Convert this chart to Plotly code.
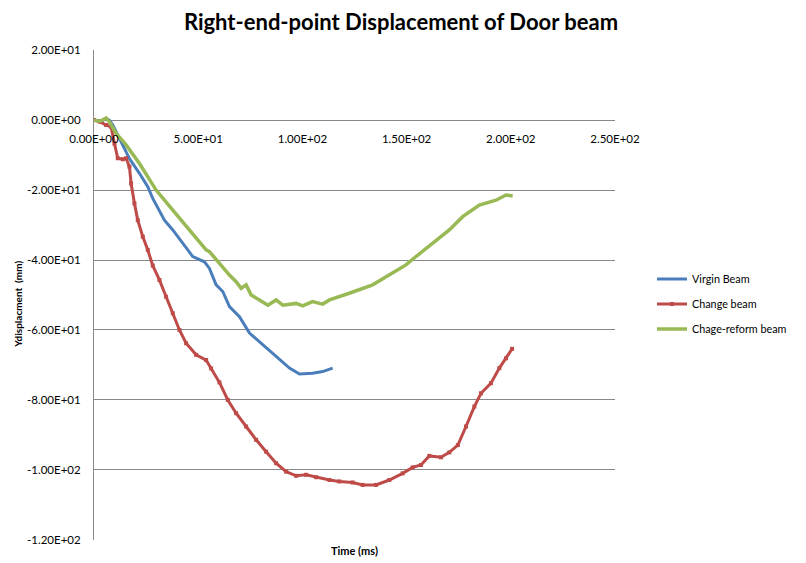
import plotly.graph_objects as go

# ---------------- data ----------------
virgin_x = [0, 4, 5.8, 7.4, 9, 12.2, 17, 21.8, 25.8, 28.2, 31.4, 33.8, 37.8, 42.6, 47.4,
            53, 55.4, 58.6, 61.8, 65, 69.8, 74.6, 81, 87.4, 93.8, 98.6, 104.9, 109.7, 114.5]
virgin_y = [0, -0.2, 0.5, 0, -1.4, -5.2, -11, -15.2, -19, -22.4, -25.7, -28.6, -31.4, -35.2, -39,
            -40.5, -42.4, -47.1, -49, -53.3, -56.2, -60.9, -64.3, -67.6, -70.9, -72.6, -72.4, -71.9, -70.9]

change_x = [0, 3, 5.8, 8.2, 9.8, 11.4, 13.8, 15.4, 17, 17.8, 19.4, 21, 23.4, 25.8, 28.2, 31.4,
            34.6, 37.8, 41, 44.2, 49, 53.8, 56.2, 60.2, 64.2, 68.2, 73, 77.8, 82.6, 87.4, 92.2,
            97, 101.8, 106.6, 113, 117.7, 124.1, 128.9, 135.3, 141.7, 148.1, 152.9, 156.9, 160.9,
            166.5, 170.5, 174.6, 178.5, 182.5, 185.7, 190.5, 194.5, 197.7, 200.6]
change_y = [0, -0.5, -1.4, -1.9, -6.7, -10.9, -11.2, -10.9, -13.3, -18.1, -23.8, -28.6, -33.3,
            -37.1, -41.6, -45.7, -50.5, -55.2, -60, -63.8, -67.1, -68.6, -71, -75, -80, -83.8,
            -87.6, -91.4, -94.8, -98.1, -100.5, -101.7, -101.4, -102.1, -102.9, -103.3, -103.6,
            -104.3, -104.3, -102.9, -101, -99.3, -98.6, -96, -96.4, -95, -92.9, -87.6, -81.9,
            -78.1, -75.2, -70.9, -68.1, -65.4]

reform_x = [0, 3, 5.8, 7.4, 10.6, 15.4, 21.8, 29.8, 37.8, 45.8, 49, 53.8, 55.4, 60.2, 65, 68.2,
            70.6, 73, 75.4, 79.4, 83.4, 87.4, 90.6, 97, 100.1, 104.9, 109.7, 113, 117.7, 122.5,
            133.7, 143.3, 149.7, 154.5, 162.5, 170.5, 176.9, 184.9, 192.9, 197.7, 200.9]
reform_y = [0, -0.3, 0.6, -0.5, -3.8, -7.1, -12.4, -20, -25.7, -31.4, -33.3, -37.1, -37.6, -41,
            -44.3, -46.2, -48.1, -47.1, -50, -51.4, -52.9, -51.4, -52.9, -52.4, -53.1, -51.9,
            -52.6, -51.4, -50.5, -49.5, -47.1, -43.8, -41.4, -39, -35.2, -31.4, -27.6, -24.3,
            -22.9, -21.4, -21.7]

series_names = ["Virgin Beam", "Change beam", "Chage-reform beam"]

x_tickvals = [0, 50, 100, 150, 200, 250]
x_ticktext = ["0.00E+00", "5.00E+01", "1.00E+02", "1.50E+02", "2.00E+02", "2.50E+02"]
y_tickvals = [20, 0, -20, -40, -60, -80, -100, -120]
y_ticktext = ["2.00E+01", "0.00E+00", "-2.00E+01", "-4.00E+01", "-6.00E+01",
              "-8.00E+01", "-1.00E+02", "-1.20E+02"]

title_text = "Right-end-point Displacement of Door beam"
x_title = "Time (ms)"
y_title = "Ydisplacment  (mm)"

# ---------------- figure ----------------
FONT = "Lato, 'Open Sans', sans-serif"
GRID = "#888888"
BLUE, RED, GREEN = "#4A7EBB", "#BE4B48", "#98B954"

fig = go.Figure()
fig.add_trace(go.Scatter(x=virgin_x, y=virgin_y, name=series_names[0], mode="lines",
                         line=dict(color=BLUE, width=3), legendgroup="a"))
fig.add_trace(go.Scatter(x=change_x, y=change_y, name=series_names[1], mode="lines+markers",
                         line=dict(color=RED, width=3),
                         marker=dict(color=RED, size=4, symbol="square"), legendgroup="b"))
fig.add_trace(go.Scatter(x=reform_x, y=reform_y, name=series_names[2], mode="lines",
                         line=dict(color=GREEN, width=3.5), legendgroup="c"))

# page body has an 8px margin: figure is 798x555 and offsets are compensated
fig.update_layout(
    width=798, height=555,
    margin=dict(l=86, r=191, t=42, b=23, pad=0),
    paper_bgcolor="white", plot_bgcolor="white",
    font=dict(family=FONT, size=11.5, color="#000000"),
    title=dict(text="<b>" + title_text + "</b>", x=393 / 798, xanchor="center",
               y=1 - 14 / 555, yanchor="middle", font=dict(size=22, family=FONT)),
    showlegend=True,
    legend=dict(x=(644 - 86) / 521, xanchor="left", y=(490 - 254) / 490, yanchor="middle",
                font=dict(size=10.8, family=FONT), bgcolor="rgba(0,0,0,0)",
                borderwidth=0, itemwidth=30, tracegroupgap=6, traceorder="grouped"),
    xaxis=dict(range=[0, 250], tickvals=x_tickvals, ticktext=x_ticktext,
               showgrid=False, zeroline=False, showline=False,
               anchor="free", position=120.05 / 140.1, side="bottom",
               ticks="", ticklabelstandoff=10, tickfont=dict(size=11.5, family=FONT)),
    yaxis=dict(range=[-120.05, 20.05], tickvals=y_tickvals, ticktext=y_ticktext,
               showgrid=True, gridcolor=GRID, gridwidth=1,
               zeroline=True, zerolinecolor=GRID, zerolinewidth=1,
               showline=True, linecolor=GRID, linewidth=1,
               ticks="", ticklabelstandoff=10, tickfont=dict(size=11.5, family=FONT)),
    annotations=[
        dict(text="<b>" + x_title + "</b>", xref="paper", yref="paper",
             x=0.5, y=-10 / 490, xanchor="center", yanchor="middle", showarrow=False,
             font=dict(size=11, family=FONT)),
        dict(text="<b>" + y_title + "</b>", xref="paper", yref="paper",
             x=-76 / 521, y=0.48, xanchor="center", yanchor="middle", showarrow=False,
             textangle=-90, font=dict(size=10, family=FONT)),
    ],
)

fig.write_html("out.html")
